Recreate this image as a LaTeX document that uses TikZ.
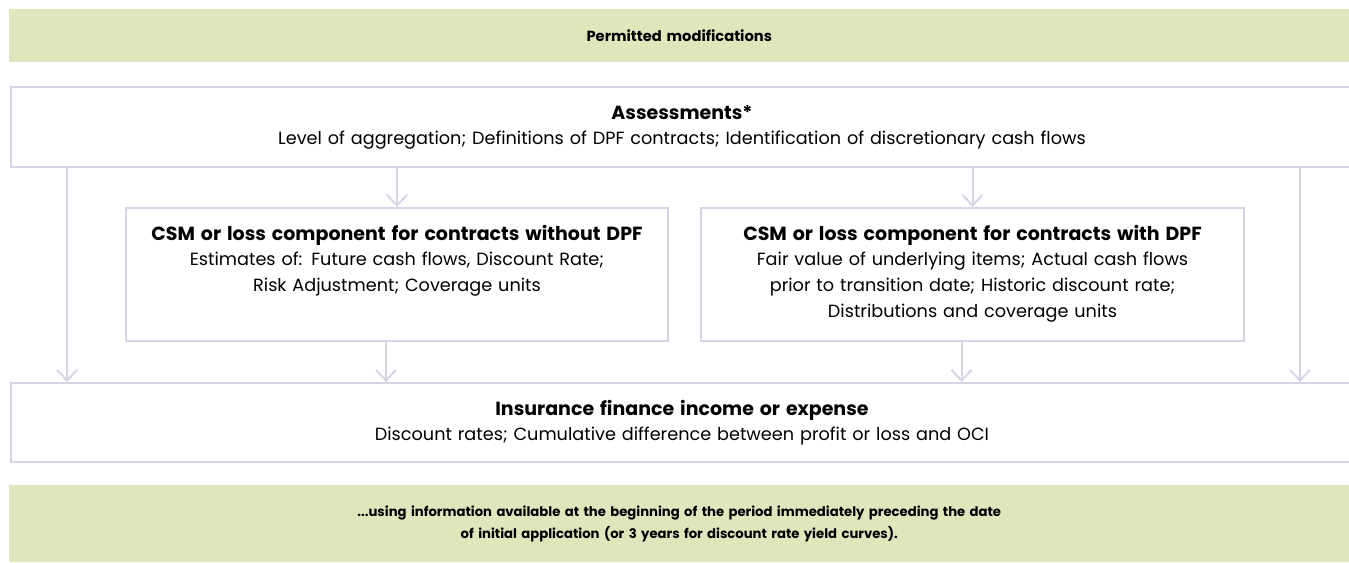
\documentclass[tikz,border=0pt]{standalone}
\usepackage{fontspec}
\setmainfont{Poppins}[BoldFont={Poppins Bold}]
\usetikzlibrary{arrows.meta,calc,positioning}
\definecolor{bandgreen}{RGB}{221,231,187}
\definecolor{lilac}{RGB}{217,211,232}
\newcommand{\boxtitle}[1]{{\bfseries\fontsize{14.25}{19.25}\selectfont #1}}

\begin{document}
\begin{tikzpicture}[x=0.75pt,y=-0.75pt,
  band/.style={fill=bandgreen,draw=none,anchor=north west,inner sep=0pt,align=center,
    font=\bfseries\fontsize{9.9}{16.5}\selectfont},
  box/.style={draw=lilac,line width=1.5pt,fill=white,anchor=north west,inner sep=0pt,align=center,
    font=\fontsize{13.25}{19.25}\selectfont},
  arr/.style={draw=lilac,line width=1.5pt,-{Straight Barb[length=8pt,width=15pt,line width=1.5pt]}}]
  \useasboundingbox (0,0) rectangle (1349,562);

  % green bands
  \node[band,text width=1005pt,minimum height=39.75pt,font=\bfseries\fontsize{11}{16.5}\selectfont]
    (permitted) at (9,9) {Permitted modifications};
  \node[band,text width=1005pt,minimum height=57.75pt] (info) at (9,485)
    {...using information available at the beginning of the period immediately preceding the date\\
     of initial application (or 3 years for discount rate yield curves).};

  % boxes
  \node[box,text width=1006.5pt,text height=24pt,text depth=36pt] (assess) at (10,86)
    {\boxtitle{Assessments*}\\
     Level of aggregation; Definitions of DPF contracts; Identification of discretionary cash flows};
  \node[box,text width=406.5pt,text height=24pt,text depth=75.75pt] (csmwo) at (125,207)
    {\boxtitle{CSM or loss component for contracts without DPF}\\
     Estimates of: Future cash flows, Discount Rate;\\
     Risk Adjustment; Coverage units};
  \node[box,text width=407.25pt,text height=24pt,text depth=75.75pt] (csmw) at (700,207)
    {\boxtitle{CSM or loss component for contracts with DPF}\\
     Fair value of underlying items; Actual cash flows\\
     prior to transition date; Historic discount rate;\\
     Distributions and coverage units};
  \node[box,text width=1006.5pt,text height=24pt,text depth=35.25pt] (ifie) at (10,382)
    {\boxtitle{Insurance finance income or expense}\\
     Discount rates; Cumulative difference between profit or loss and OCI};

  \coordinate (leftin)  at ($(assess.south west)+(57,0)$);
  \coordinate (rightin) at ($(assess.south west)+(1290,0)$);
  \coordinate (csmwoout) at ($(csmwo.south)+(-11,0)$);
  \coordinate (csmwout)  at ($(csmw.south)+(-11,0)$);

  \path
    (leftin) edge[arr] (leftin |- ifie.north)
    (assess.south -| csmwo.north) edge[arr] (csmwo.north)
    (assess.south -| csmw.north) edge[arr] (csmw.north)
    (rightin) edge[arr] (rightin |- ifie.north)
    (csmwoout) edge[arr] (csmwoout |- ifie.north)
    (csmwout) edge[arr] (csmwout |- ifie.north);
\end{tikzpicture}
\end{document}
